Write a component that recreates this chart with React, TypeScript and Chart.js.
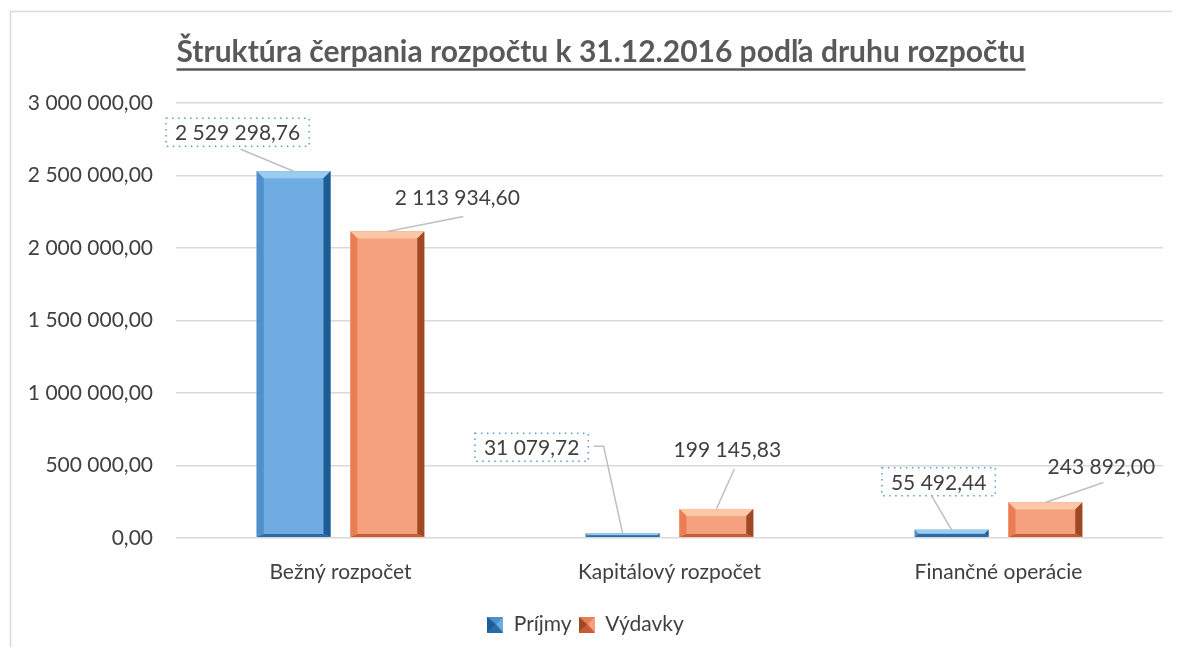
import React, { useEffect, useRef } from "react";
import { Chart, registerables } from "chart.js";

Chart.register(...registerables);

const categories = ["Bežný rozpočet", "Kapitálový rozpočet", "Finančné operácie"];
const prijmy = [2529298.76, 31079.72, 55492.44];
const vydavky = [2113934.6, 199145.83, 243892.0];
const seriesNames = ["Príjmy", "Výdavky"];
const yMin = 0;
const yMax = 3000000;
const yStep = 500000;
const titleText = "Štruktúra čerpania rozpočtu k 31.12.2016 podľa druhu rozpočtu";

// label placement (pixel offsets from bar top centre) and leader-line start offsets (from label centre)
const prijmyLabelOffsets = [[-56, -39], [-91, -86], [-13, -48]];
const vydavkyLabelOffsets = [[70, -34], [11, -60], [56, -36]];
const prijmyLineStarts = [[3, 17, 0], [62, -1, 1], [-7, 14, 0]];
const vydavkyLineStarts = [[6, 19, 0], [7, 20, 0], [2, 16, 0]];

const FONT = "Lato, 'Open Sans', sans-serif";
const TEXT = "#404040";

const bevelColors = [
  { front: "#6EACE1", top: "#9CCBF0", left: "#4F8FCB", right: "#1D5C94", bottom: "#2C6CA6" },
  { front: "#F5A07F", top: "#FBC7A6", left: "#EB7D55", right: "#9E4824", bottom: "#C95B32" },
];

function fmt(n: number) {
  const [i, d] = n.toFixed(2).split(".");
  return i.replace(/\B(?=(\d{3})+(?!\d))/g, " ") + "," + d;
}

function poly(ctx: CanvasRenderingContext2D, pts: number[][], color: string) {
  ctx.beginPath();
  ctx.moveTo(pts[0][0], pts[0][1]);
  for (let k = 1; k < pts.length; k++) ctx.lineTo(pts[k][0], pts[k][1]);
  ctx.closePath();
  ctx.fillStyle = color;
  ctx.fill();
}

function legendIcon(c: any) {
  const cv = document.createElement("canvas");
  cv.width = 16;
  cv.height = 16;
  const g = cv.getContext("2d") as CanvasRenderingContext2D;
  g.fillStyle = c.front;
  g.fillRect(0, 0, 16, 16);
  poly(g, [[0, 0], [9, 8], [0, 16]], c.right);
  poly(g, [[0, 0], [16, 0], [9, 8]], c.left);
  poly(g, [[0, 16], [16, 16], [9, 8]], c.bottom);
  return cv;
}

const bevelPlugin = {
  id: "bevel",
  afterDatasetsDraw(chart: any) {
    const ctx: CanvasRenderingContext2D = chart.ctx;
    ctx.save();
    chart.data.datasets.forEach((ds: any, di: number) => {
      const meta = chart.getDatasetMeta(di);
      const c = bevelColors[di];
      meta.data.forEach((bar: any) => {
        const x0 = bar.x - bar.width / 2;
        const x1 = bar.x + bar.width / 2;
        const y0 = Math.min(bar.y, bar.base);
        const y1 = Math.max(bar.y, bar.base);
        const w = x1 - x0;
        const h = y1 - y0;
        const b = Math.min(7, w / 2, h / 2);
        const bb = Math.min(3, h / 2);
        ctx.fillStyle = c.front;
        ctx.fillRect(x0, y0, w, h);
        poly(ctx, [[x0, y0], [x1, y0], [x1 - b, y0 + b], [x0 + b, y0 + b]], c.top);
        poly(ctx, [[x0, y0], [x0 + b, y0 + b], [x0 + b, y1 - bb], [x0, y1]], c.left);
        poly(ctx, [[x1, y0], [x1, y1], [x1 - b, y1 - bb], [x1 - b, y0 + b]], c.right);
        poly(ctx, [[x0, y1], [x0 + b, y1 - bb], [x1 - b, y1 - bb], [x1, y1]], c.bottom);
      });
    });
    ctx.restore();
  },
};

const labelPlugin = {
  id: "leaderLabels",
  afterDatasetsDraw(chart: any) {
    const ctx: CanvasRenderingContext2D = chart.ctx;
    ctx.save();
    ctx.font = `21px ${FONT}`;
    ctx.textAlign = "center";
    ctx.textBaseline = "middle";
    const offs = [prijmyLabelOffsets, vydavkyLabelOffsets];
    const starts = [prijmyLineStarts, vydavkyLineStarts];
    chart.data.datasets.forEach((ds: any, di: number) => {
      const meta = chart.getDatasetMeta(di);
      meta.data.forEach((bar: any, i: number) => {
        const value = ds.data[i];
        const txt = fmt(value);
        const lx = bar.x + offs[di][i][0];
        const ly = bar.y + offs[di][i][1];
        const tw = ctx.measureText(txt).width;
        const s = starts[di][i];
        ctx.strokeStyle = "#BFBFBF";
        ctx.lineWidth = 1.5;
        ctx.setLineDash([]);
        ctx.beginPath();
        ctx.moveTo(lx + s[0], ly + s[1]);
        if (s[2]) ctx.lineTo(lx + s[0] + 10, ly + s[1]);
        ctx.lineTo(bar.x, bar.y);
        ctx.stroke();
        if (di === 0) {
          const bw = tw + 18;
          const bh = 28;
          ctx.fillStyle = "#FFFFFF";
          ctx.fillRect(lx - bw / 2, ly - bh / 2, bw, bh);
          ctx.strokeStyle = "#5B9BD5";
          ctx.lineWidth = 1.5;
          ctx.setLineDash([1.5, 4.5]);
          ctx.strokeRect(lx - bw / 2, ly - bh / 2, bw, bh);
          ctx.setLineDash([]);
        }
        ctx.fillStyle = TEXT;
        ctx.fillText(txt, lx, ly + 1);
      });
    });
    ctx.restore();
  },
};

const framePlugin = {
  id: "frame",
  afterDraw(chart: any) {
    const ctx: CanvasRenderingContext2D = chart.ctx;
    ctx.save();
    ctx.strokeStyle = "#D9D9D9";
    ctx.lineWidth = 1.5;
    ctx.beginPath();
    ctx.moveTo(2.5, 2000);
    ctx.lineTo(2.5, 3.5);
    ctx.lineTo(3000, 3.5);
    ctx.stroke();
    ctx.font = `bold 30px ${FONT}`;
    ctx.fillStyle = "#595959";
    ctx.textAlign = "center";
    ctx.textBaseline = "middle";
    const cx = 593;
    ctx.fillText(titleText, cx, 44);
    const w = ctx.measureText(titleText).width;
    ctx.strokeStyle = "#595959";
    ctx.lineWidth = 2.5;
    ctx.beginPath();
    ctx.moveTo(cx - w / 2, 61.5);
    ctx.lineTo(cx + w / 2, 61.5);
    ctx.stroke();
    ctx.restore();
  },
};

export default function App() {
  const ref = useRef<HTMLCanvasElement | null>(null);
  useEffect(() => {
    if (!ref.current) return;
    const icons = [legendIcon(bevelColors[0]), legendIcon(bevelColors[1])];
    const chart = new Chart(ref.current, {
      type: "bar",
      data: {
        labels: categories,
        datasets: [
          { label: seriesNames[0], data: prijmy, backgroundColor: bevelColors[0].front, borderWidth: 0, pointStyle: icons[0] as any },
          { label: seriesNames[1], data: vydavky, backgroundColor: bevelColors[1].front, borderWidth: 0, pointStyle: icons[1] as any },
        ],
      },
      options: {
        responsive: true,
        maintainAspectRatio: false,
        animation: false,
        layout: { padding: { top: 95, right: 17, bottom: 10, left: 0 } },
        datasets: { bar: { categoryPercentage: 0.57, barPercentage: 0.787 } },
        plugins: {
          title: { display: false },
          legend: {
            position: "bottom",
            labels: {
              color: TEXT,
              font: { family: FONT, size: 21 },
              usePointStyle: true,
              boxWidth: 16,
              boxHeight: 16,
              padding: 7,
            },
          },
          tooltip: { enabled: false },
        },
        scales: {
          x: {
            grid: { display: false, drawTicks: false },
            border: { display: false },
            ticks: { color: TEXT, font: { family: FONT, size: 21 }, padding: 22 },
          },
          y: {
            min: yMin,
            max: yMax,
            afterFit(scale: any) {
              scale.width = 168;
            },
            grid: { color: "#D9D9D9", lineWidth: 1.5, drawTicks: false },
            border: { display: false },
            ticks: {
              stepSize: yStep,
              color: TEXT,
              font: { family: FONT, size: 21 },
              padding: 23,
              callback: (v: any) => fmt(Number(v)),
            },
          },
        },
      },
      plugins: [bevelPlugin, labelPlugin, framePlugin],
    });
    return () => chart.destroy();
  }, []);
  return (
    <div style={{ width: 1164, height: 639, position: "relative" }}>
      <div style={{ position: "absolute", left: 0, top: 0, width: 1172, height: 647 }}>
        <canvas ref={ref} />
      </div>
    </div>
  );
}
